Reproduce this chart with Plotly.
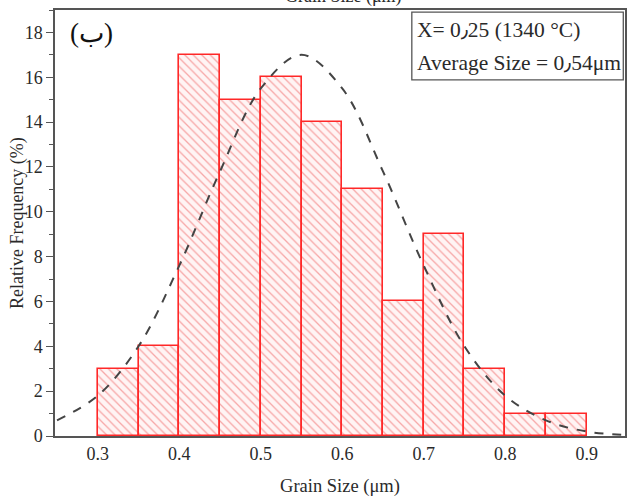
import plotly.graph_objects as go

# Histogram bins (left edges, µm) and relative frequency (%)
bin_left = [0.30, 0.35, 0.40, 0.45, 0.50, 0.55, 0.60, 0.65, 0.70, 0.75, 0.80, 0.85]
freq = [3, 4, 17, 15, 16, 14, 11, 6, 9, 3, 1, 1]
bin_width = 0.05

# Dashed fitted curve
curve_x = [0.25, 0.30, 0.35, 0.40, 0.45, 0.50, 0.55, 0.60, 0.65, 0.70, 0.75, 0.80, 0.85, 0.90, 0.95]
curve_y = [0.7, 1.8, 4.0, 7.6, 11.8, 15.5, 17.0, 15.5, 11.8, 7.6, 4.0, 1.8, 0.7, 0.2, 0.05]

x_ticks = [0.3, 0.4, 0.5, 0.6, 0.7, 0.8, 0.9]
x_tick_labels = ["0.3", "0.4", "0.5", "0.6", "0.7", "0.8", "0.9"]

SERIF = "Liberation Serif, Times New Roman, serif"
TXT = "#2a2a2a"

fig = go.Figure()
fig.add_trace(go.Bar(
    x=bin_left, y=freq, width=bin_width, offset=0,
    marker=dict(
        color="#fff4f4",
        line=dict(color="#ff2828", width=1.6),
        pattern=dict(shape="\\", fgcolor="#ee5a5a", size=6, solidity=0.22, fillmode="overlay"),
    ),
    showlegend=False,
))
fig.add_trace(go.Scatter(
    x=curve_x, y=curve_y, mode="lines", line_shape="spline",
    line=dict(color="#444444", width=2, dash="dash"),
    showlegend=False,
))

fig.update_layout(
    width=628, height=498,
    margin=dict(l=55, r=1, t=10, b=62),
    plot_bgcolor="white", paper_bgcolor="white",
    font=dict(family=SERIF, color=TXT, size=18),
    bargap=0,
    shapes=[dict(type="rect", xref="paper", yref="paper",
                 x0=0.626, x1=0.997, y0=0.836, y1=0.995,
                 line=dict(color="#555555", width=1.3), fillcolor="white", layer="above")],
    annotations=[
        dict(text="X= 0٫25 (1340 °C)", xref="paper", yref="paper", x=0.632, y=0.953,
             xanchor="left", yanchor="middle", showarrow=False, font=dict(size=21.5, family=SERIF, color=TXT)),
        dict(text="Average Size = 0٫54μm", xref="paper", yref="paper", x=0.632, y=0.876,
             xanchor="left", yanchor="middle", showarrow=False, font=dict(size=21.5, family=SERIF, color=TXT)),
        dict(text="(ب)", xref="paper", yref="paper", x=0.022, y=0.945,
             xanchor="left", yanchor="middle", showarrow=False, font=dict(size=27, family=SERIF, color="#111111")),
        dict(text="Grain Size (μm)", xref="paper", yref="paper", x=0.507, y=1.0,
             xanchor="center", yanchor="bottom", yshift=1, showarrow=False, font=dict(size=18, family=SERIF, color=TXT)),
        dict(text="Relative Frequency (%)", xref="paper", yref="paper", x=-0.0665, y=0.5,
             xanchor="center", yanchor="middle", textangle=-90, showarrow=False,
             font=dict(size=18, family=SERIF, color=TXT)),
    ],
)
fig.update_xaxes(
    range=[0.2475, 0.947], tickvals=x_ticks, ticktext=x_tick_labels,
    showline=True, linecolor="#555555", linewidth=2, mirror=True,
    ticks="", showgrid=False, zeroline=False,
    title=dict(text="Grain Size (μm)", font=dict(size=18.5, family=SERIF, color=TXT), standoff=16),
    tickfont=dict(size=18, family=SERIF, color=TXT),
)
fig.update_yaxes(
    range=[0, 19], dtick=2, tick0=0,
    showline=True, linecolor="#555555", linewidth=1.5, mirror=True,
    ticks="outside", ticklen=7, tickcolor="#555555",
    minor=dict(dtick=1, ticks="outside", ticklen=4, tickcolor="#555555"),
    showgrid=False, zeroline=False,
    tickfont=dict(size=18, family=SERIF, color=TXT),
)

fig.write_html("out.html", config={"displayModeBar": False},
               post_script="document.body.style.margin='0';")
